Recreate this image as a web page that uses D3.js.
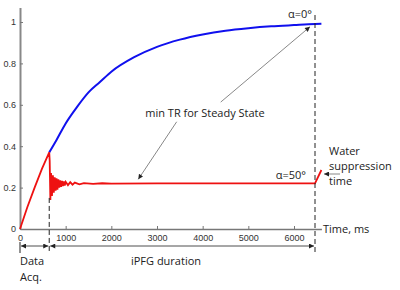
<!DOCTYPE html>
<html>
<head>
<meta charset="utf-8">
<script src="https://cdn.jsdelivr.net/npm/d3@7"></script>
<style>
  body { margin: 0; background: #fff; }
  svg { display: block; }
  .tick text { font-family: "Liberation Sans", Arial, sans-serif; font-size: 9px; fill: #333; }
  .note { font-family: "Open Sans", sans-serif; font-size: 11px; fill: #222; }
</style>
</head>
<body>
<div id="chart"></div>
<script>
// values (time in ms, signal fraction)
const xTicks = [0, 1000, 2000, 3000, 4000, 5000, 6000];
const yTicks = [0, 0.2, 0.4, 0.6, 0.8, 1];

// alpha = 0 deg curve (starts where data acquisition ends)
const blueTimes  = [640, 800, 1000, 1250, 1500, 1750, 2000, 2500, 3000, 3500, 4000, 4500, 5000, 5500, 6000, 6460, 6600];
const blueValues = [0.37, 0.43, 0.51, 0.59, 0.66, 0.71, 0.76, 0.83, 0.88, 0.915, 0.94, 0.958, 0.97, 0.979, 0.985, 0.99, 0.991];

// alpha = 50 deg curve (acquisition rise, drop, ringing, steady state, recovery)
const redTimes  = [0, 160, 320, 480, 640, 650, 665, 680, 700, 720, 740, 760, 780, 800, 820, 840, 860, 880, 900, 920, 940, 960, 980, 1000,
                   1050, 1100, 1150, 1200, 1300, 1400, 1600, 1800, 2000, 3000, 4000, 5000, 6000, 6460, 6600];
const redValues = [0, 0.105, 0.2, 0.29, 0.37, 0.33, 0.14, 0.27, 0.16, 0.26, 0.175, 0.25, 0.185, 0.245, 0.19, 0.24, 0.2, 0.235, 0.203, 0.232, 0.207, 0.23, 0.21, 0.228,
                   0.212, 0.226, 0.214, 0.224, 0.216, 0.222, 0.218, 0.221, 0.219, 0.22, 0.22, 0.22, 0.22, 0.22, 0.285];

const acqEnd = 640;      // end of data acquisition
const trEnd = 6460;      // minimum TR
const xMax = 6600;
const yMax = 1.07;

function renderChart(containerId) {
    const width = 400, height = 290;
    const svg = d3.select(`#${containerId}`).append('svg')
        .attr('width', width).attr('height', height);

    const x = d3.scaleLinear().domain([0, xMax]).range([20, 321.4]);
    const y = d3.scaleLinear().domain([0, yMax]).range([229, 229 - yMax * 207]);

    // arrow heads
    const defs = svg.append('defs');
    defs.append('marker').attr('id', 'ah')
        .attr('viewBox', '0 0 10 10').attr('refX', 10).attr('refY', 5)
        .attr('markerWidth', 6).attr('markerHeight', 5).attr('markerUnits', 'userSpaceOnUse')
        .attr('orient', 'auto-start-reverse')
        .append('path').attr('d', 'M0,0L10,5L0,10Z').attr('fill', '#222');

    // axes (ticks drawn inward)
    svg.append('g')
        .attr('transform', `translate(0,${y(0)})`)
        .call(d3.axisBottom(x).tickValues(xTicks).tickSizeInner(-3).tickSizeOuter(0).tickPadding(6).tickFormat(d3.format('d')))
        .call(g => g.select('.domain').attr('stroke', '#777').attr('stroke-width', 1.5))
        .call(g => g.selectAll('.tick line').attr('stroke', '#777'));

    svg.append('g')
        .attr('transform', `translate(${x(0)},0)`)
        .call(d3.axisLeft(y).tickValues(yTicks).tickSizeInner(-3).tickSizeOuter(0).tickPadding(4).tickFormat(d => d === 0 || d === 1 ? d : d.toFixed(1)))
        .call(g => g.select('.domain').attr('stroke', '#888').attr('stroke-width', 2))
        .call(g => g.selectAll('.tick line').attr('stroke', '#777'));

    // curves
    const line = d3.line().x(d => x(d[0])).y(d => y(d[1]));
    svg.append('path')
        .datum(blueTimes.map((t, i) => [t, blueValues[i]]))
        .attr('d', line.curve(d3.curveMonotoneX))
        .attr('fill', 'none').attr('stroke', '#1010ee').attr('stroke-width', 2);
    svg.append('path')
        .datum(redTimes.map((t, i) => [t, redValues[i]]))
        .attr('d', d3.line().x(d => x(d[0])).y(d => y(d[1]))(redTimes.map((t, i) => [t, redValues[i]])))
        .attr('fill', 'none').attr('stroke', '#ee1111').attr('stroke-width', 1.8);

    // dashed markers
    svg.append('line')
        .attr('x1', x(acqEnd)).attr('x2', x(acqEnd)).attr('y1', y(0.15)).attr('y2', 253)
        .attr('stroke', '#222').attr('stroke-width', 1).attr('stroke-dasharray', '5,3');
    svg.append('line')
        .attr('x1', x(trEnd)).attr('x2', x(trEnd)).attr('y1', 15).attr('y2', 253)
        .attr('stroke', '#222').attr('stroke-width', 1).attr('stroke-dasharray', '5,3');

    // duration arrows
    const rowY = 246;
    svg.append('line').attr('x1', x(0)).attr('x2', x(0)).attr('y1', 242).attr('y2', 253)
        .attr('stroke', '#222').attr('stroke-width', 1);
    [[0, acqEnd], [acqEnd, trEnd]].forEach(([a, b]) => {
        svg.append('line')
            .attr('x1', x(a) + 1).attr('x2', x(b) - 1).attr('y1', rowY).attr('y2', rowY)
            .attr('stroke', '#222').attr('stroke-width', 0.8)
            .attr('marker-start', 'url(#ah)').attr('marker-end', 'url(#ah)');
    });

    // pointer arrows
    const pointers = [
        [3431, 0.518, 2590, 0.24],
        [4395, 0.613, 6350, 0.977]
    ];
    pointers.forEach(p => {
        svg.append('line')
            .attr('x1', x(p[0])).attr('y1', y(p[1])).attr('x2', x(p[2])).attr('y2', y(p[3]))
            .attr('stroke', '#555').attr('stroke-width', 0.7)
            .attr('marker-end', 'url(#ah)');
    });
    svg.append('line')
        .attr('x1', 340).attr('x2', 324).attr('y1', 174).attr('y2', 174)
        .attr('stroke', '#555').attr('stroke-width', 0.7)
        .attr('marker-end', 'url(#ah)');

    // text
    const note = (tx, ty, s, anchor) => svg.append('text').attr('class', 'note')
        .attr('x', tx).attr('y', ty).attr('text-anchor', anchor || 'start').text(s);
    note(205, 117, 'min TR for Steady State', 'middle');
    note(312, 18, 'α=0°', 'end');
    note(306, 179, 'α=50°', 'end');
    note(329, 155, 'Water');
    note(329, 170, 'suppression');
    note(329, 185, 'time');
    note(323, 233, 'Time, ms');
    note(20, 265, 'Data');
    note(20, 281, 'Acq.');
    note(166, 265, 'iPFG duration', 'middle');
}

renderChart('chart');
</script>
</body>
</html>
